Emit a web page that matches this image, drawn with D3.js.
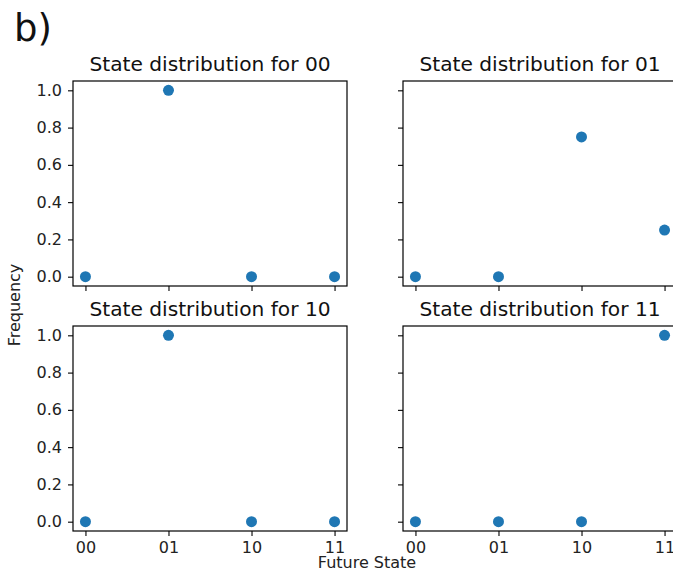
<!DOCTYPE html>
<html>
<head>
<meta charset="utf-8">
<script src="https://cdn.jsdelivr.net/npm/d3@7"></script>
<style>
  html, body { margin: 0; padding: 0; background: #fff; }
  svg { display: block; font-family: "DejaVu Sans", sans-serif; }
</style>
</head>
<body>
<svg id="chart" width="673" height="576"></svg>
<script>
const states = ["00", "01", "10", "11"];
const panelTitles = ["State distribution for 00", "State distribution for 01", "State distribution for 10", "State distribution for 11"];
const freq00 = [0, 1, 0, 0];
const freq01 = [0, 0, 0.75, 0.25];
const freq10 = [0, 1, 0, 0];
const freq11 = [0, 0, 0, 1];
const yTicks = [0, 0.2, 0.4, 0.6, 0.8, 1.0];
const panelValues = [freq00, freq01, freq10, freq11];

const svg = d3.select("#chart");
const colLeft = [73, 403];
const rowTop = [81, 326];
const W = 274, H = 205;
const color = "#1f77b4";

const x = d3.scaleLinear().domain([-0.15, 3.15]).range([0, W]);
const y = d3.scaleLinear().domain([-0.05, 1.05]).range([H, 0]);

panelValues.forEach((vals, i) => {
  const r = Math.floor(i / 2), c = i % 2;
  const g = svg.append("g").attr("transform", `translate(${colLeft[c]},${rowTop[r]})`);

  const xAxis = d3.axisBottom(x).tickValues([0, 1, 2, 3])
    .tickFormat(r === 1 ? (d => states[d]) : () => "")
    .tickSize(5).tickPadding(6);
  const yAxis = d3.axisLeft(y).tickValues(yTicks)
    .tickFormat(c === 0 ? d3.format(".1f") : () => "")
    .tickSize(5).tickPadding(6);

  const gx = g.append("g").attr("transform", `translate(0,${H})`).call(xAxis);
  const gy = g.append("g").call(yAxis);
  [gx, gy].forEach(a => {
    a.select(".domain").remove();
    a.selectAll("line").attr("stroke", "#000").attr("stroke-width", 1.1);
    a.selectAll("text").attr("fill", "#222").style("font-size", "16px").style("font-family", "DejaVu Sans");
  });

  g.append("rect").attr("x", 0).attr("y", 0).attr("width", W).attr("height", H)
    .attr("fill", "none").attr("stroke", "#000").attr("stroke-width", 1.2);

  g.selectAll("circle").data(vals).join("circle")
    .attr("cx", (d, k) => x(k)).attr("cy", d => y(d)).attr("r", 5.5)
    .attr("fill", color);

  g.append("text").attr("x", W / 2).attr("y", -10).attr("text-anchor", "middle")
    .style("font-size", "20.2px").attr("fill", "#111").text(panelTitles[i]);
});

svg.append("text").attr("x", 14).attr("y", 41).style("font-size", "37px").attr("fill", "#111").text("b)");
svg.append("text").attr("transform", "translate(20,305) rotate(-90)").attr("text-anchor", "middle")
  .style("font-size", "16px").attr("fill", "#222").text("Frequency");
svg.append("text").attr("x", 367).attr("y", 568).attr("text-anchor", "middle")
  .style("font-size", "16px").attr("fill", "#222").text("Future State");
</script>
</body>
</html>
